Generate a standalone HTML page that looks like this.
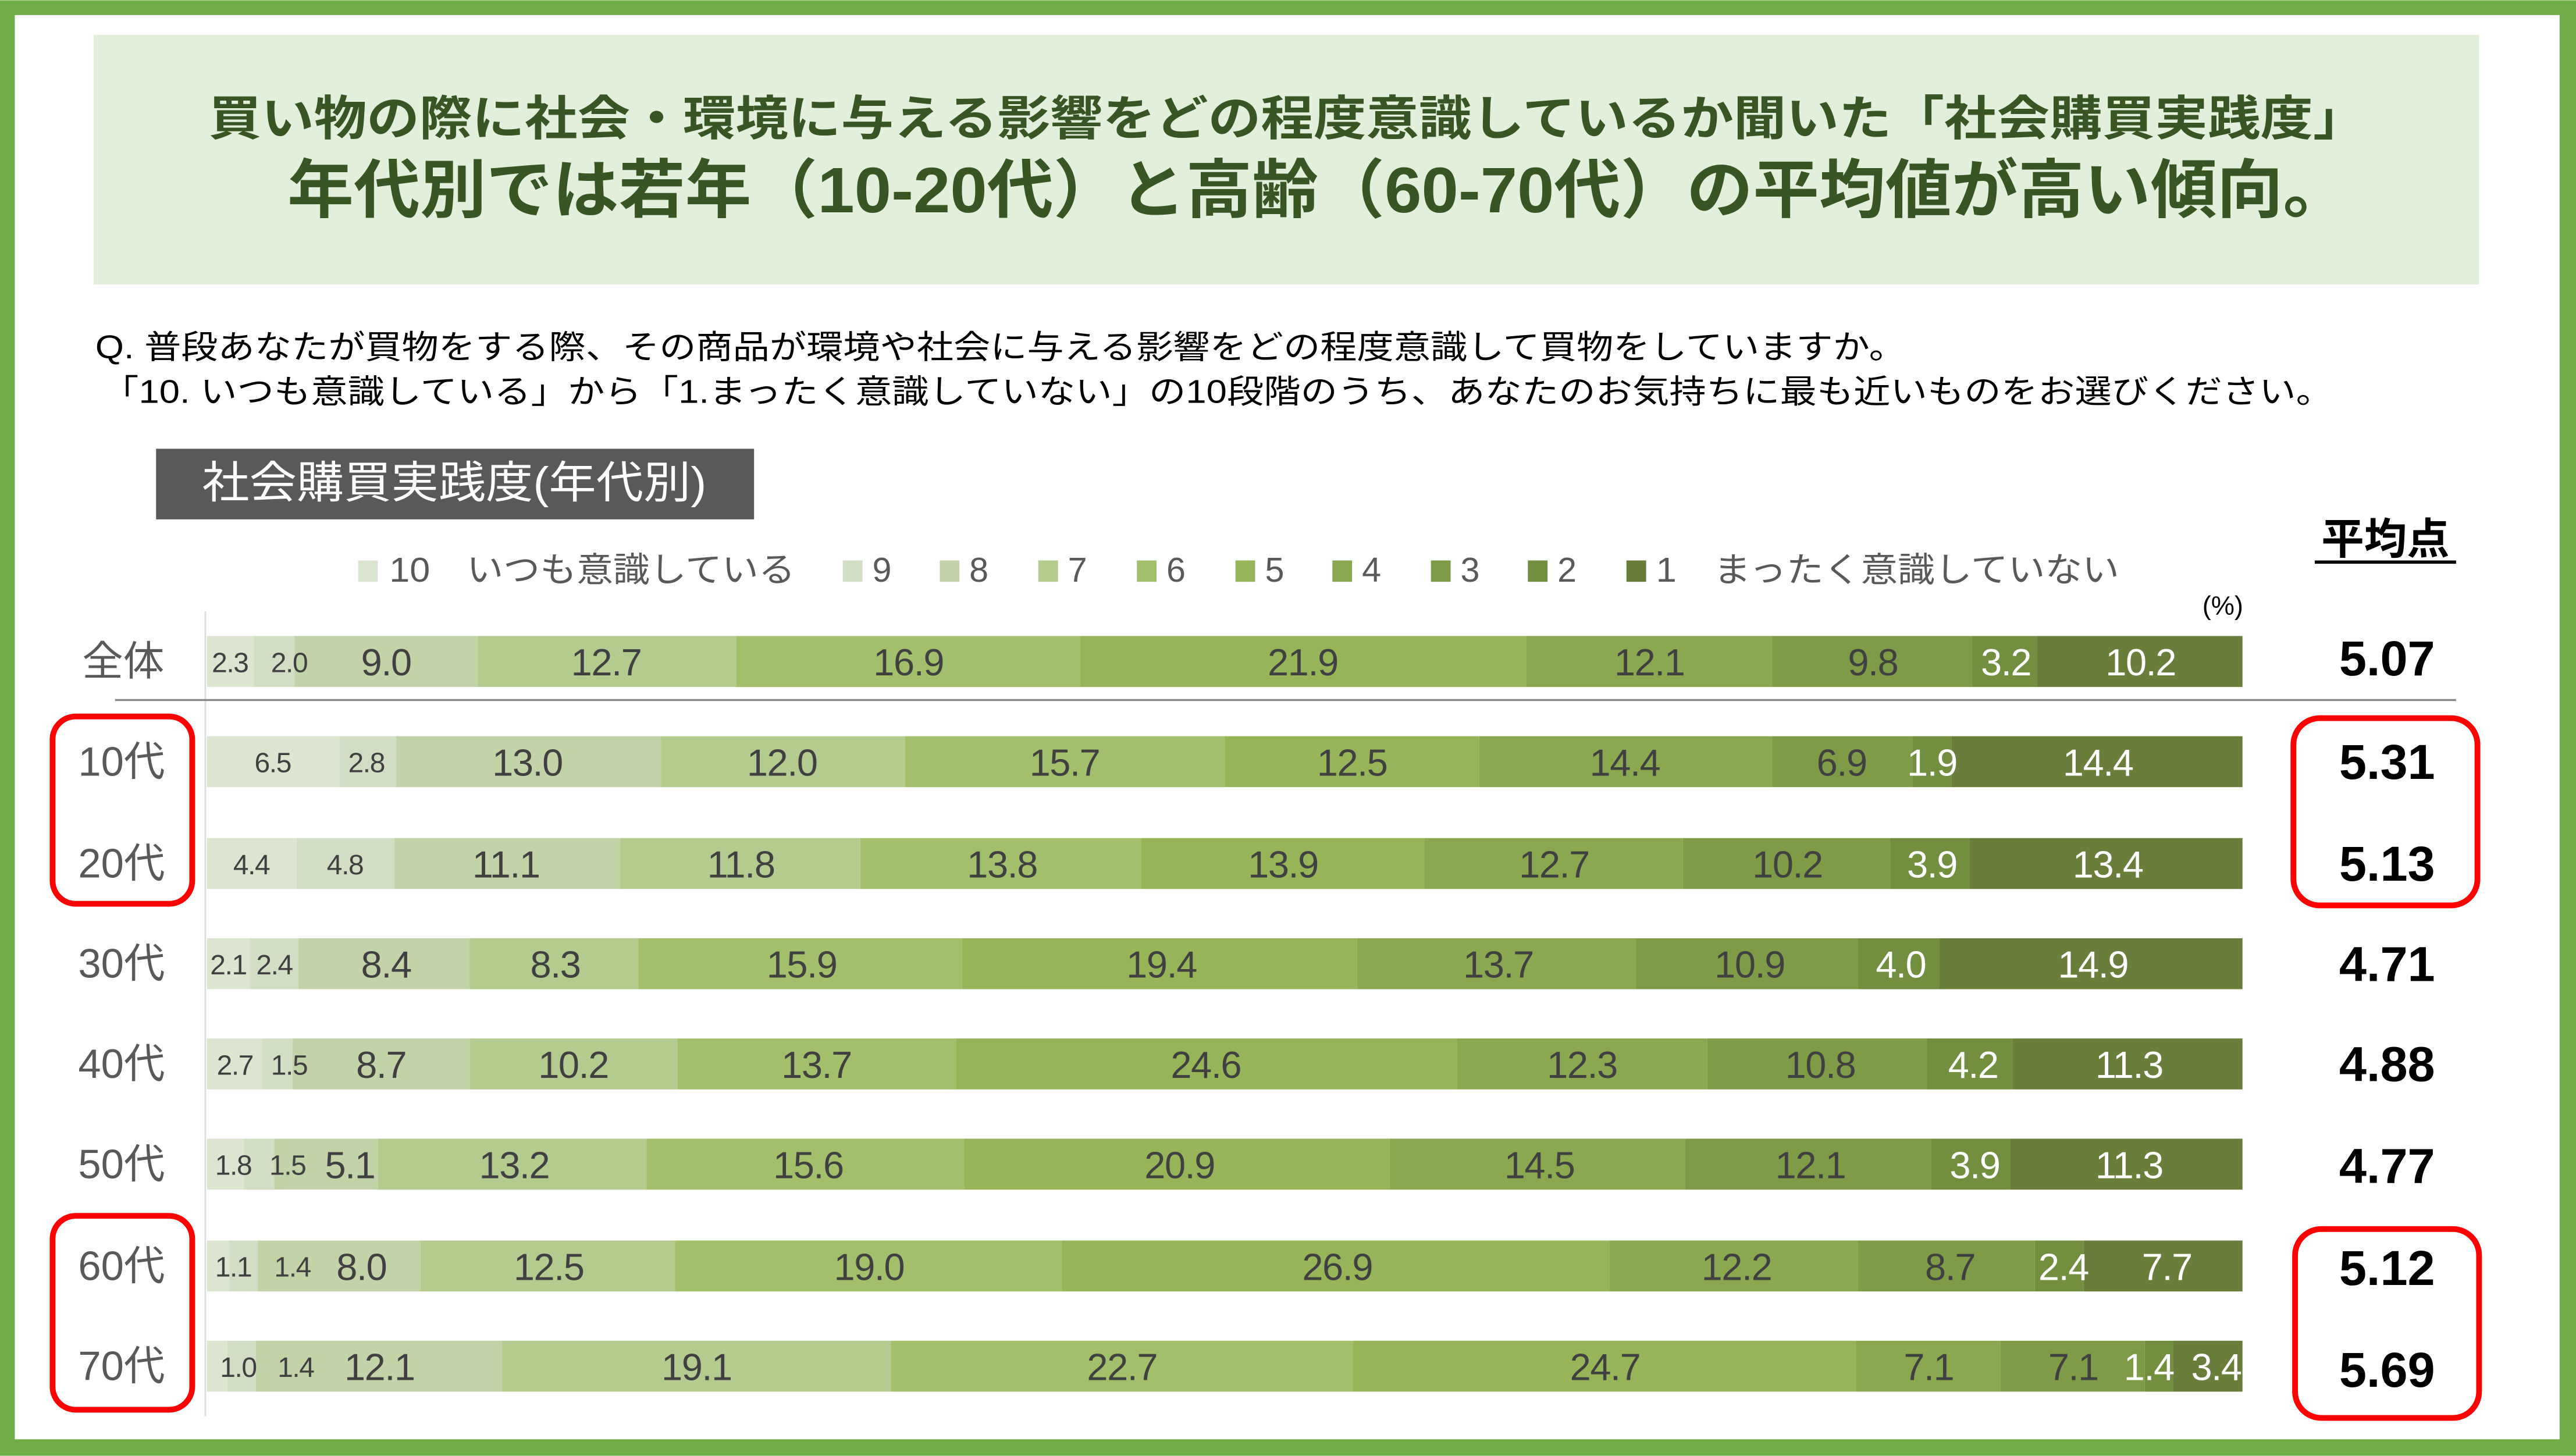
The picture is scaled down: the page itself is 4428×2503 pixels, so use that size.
<!DOCTYPE html>
<html><head><meta charset="utf-8"><style>
html,body{margin:0;padding:0;background:#fff;}
svg{display:block;}
text{font-family:"Liberation Sans","Noto Sans CJK JP",sans-serif;}
.b{font-size:23px;fill:#404040;text-anchor:middle;letter-spacing:-0.5px;}
.s{font-size:17px;fill:#404040;text-anchor:middle;letter-spacing:-0.5px;}
.w{fill:#fff;}
.r{font-size:25px;fill:#595959;text-anchor:middle;}
.a{font-size:30px;fill:#000;text-anchor:middle;font-weight:bold;}
.lg{font-size:21px;fill:#595959;}
</style></head><body>
<svg width="4428" height="2503" viewBox="0 0 1568 886" xmlns="http://www.w3.org/2000/svg">
<rect x="0" y="0" width="1568" height="886" fill="#70AD47"/>
<rect x="9" y="9" width="1549" height="867" fill="#fff"/>
<rect x="57" y="21" width="1452" height="152" fill="#E2EFDA"/>
<text x="127" y="82" font-size="29" font-weight="bold" fill="#375623" textLength="1313" lengthAdjust="spacingAndGlyphs">買い物の際に社会・環境に与える影響をどの程度意識しているか聞いた「社会購買実践度」</text>
<text x="175" y="129" font-size="39" font-weight="bold" fill="#375623" textLength="1255" lengthAdjust="spacingAndGlyphs">年代別では若年（10-20代）と高齢（60-70代）の平均値が高い傾向。</text>
<text x="58" y="218" font-size="20" fill="#000" textLength="1102" lengthAdjust="spacingAndGlyphs">Q.  普段あなたが買物をする際、その商品が環境や社会に与える影響をどの程度意識して買物をしていますか。</text>
<text x="62" y="245" font-size="20" fill="#000" textLength="1358" lengthAdjust="spacingAndGlyphs">「10. いつも意識している」から「1.まったく意識していない」の10段階のうち、あなたのお気持ちに最も近いものをお選びください。</text>
<rect x="95" y="273" width="364" height="43" fill="#595959"/>
<text x="123" y="303" font-size="27" fill="#fff" textLength="307" lengthAdjust="spacingAndGlyphs">社会購買実践度(年代別)</text>
<text x="1452" y="337" font-size="26" fill="#000" text-anchor="middle" font-weight="bold">平均点</text>
<line x1="1409" y1="342" x2="1495" y2="342" stroke="#000" stroke-width="2"/>
<text x="1353" y="374" font-size="16" fill="#000" text-anchor="middle">(%)</text>
<g>
<rect x="218" y="341" width="12" height="13" fill="#DCE5D0"/><text class="lg" x="237" y="354" textLength="247" lengthAdjust="spacingAndGlyphs">10　いつも意識している</text>
<rect x="513" y="341" width="12" height="13" fill="#D2DEC3"/><text class="lg" x="531" y="354">9</text>
<rect x="572" y="341" width="12" height="13" fill="#C3D3A8"/><text class="lg" x="590" y="354">8</text>
<rect x="632" y="341" width="12" height="13" fill="#B4CB8F"/><text class="lg" x="650" y="354">7</text>
<rect x="692" y="341" width="12" height="13" fill="#A2C06B"/><text class="lg" x="710" y="354">6</text>
<rect x="752" y="341" width="12" height="13" fill="#95B558"/><text class="lg" x="770" y="354">5</text>
<rect x="811" y="341" width="12" height="13" fill="#8AA850"/><text class="lg" x="829" y="354">4</text>
<rect x="871" y="341" width="12" height="13" fill="#7E9B48"/><text class="lg" x="889" y="354">3</text>
<rect x="930" y="341" width="12" height="13" fill="#718F3F"/><text class="lg" x="948" y="354">2</text>
<rect x="990" y="341" width="12" height="13" fill="#687E3A"/><text class="lg" x="1008" y="354" textLength="282" lengthAdjust="spacingAndGlyphs">1　まったく意識していない</text>
</g>
<line x1="125" y1="372" x2="125" y2="862" stroke="#ddd" stroke-width="1"/>
<line x1="70" y1="426" x2="1495" y2="426" stroke="#888" stroke-width="1.2"/>

<!-- 全体 -->
<g transform="translate(0,387)">
<rect x="126" width="28.5" height="31" fill="#DCE5D0"/><rect x="154.5" width="24.8" height="31" fill="#D2DEC3"/><rect x="179.3" width="111.5" height="31" fill="#C3D3A8"/><rect x="290.8" width="157.4" height="31" fill="#B4CB8F"/><rect x="448.2" width="209.4" height="31" fill="#A2C06B"/><rect x="657.6" width="271.3" height="31" fill="#95B558"/><rect x="928.9" width="149.9" height="31" fill="#8AA850"/><rect x="1078.8" width="121.4" height="31" fill="#7E9B48"/><rect x="1200.2" width="39.6" height="31" fill="#718F3F"/><rect x="1239.8" width="125.2" height="31" fill="#687E3A"/>
<text class="s" x="140" y="22">2.3</text><text class="s" x="176" y="22">2.0</text><text class="b" x="235" y="24">9.0</text><text class="b" x="369" y="24">12.7</text><text class="b" x="553" y="24">16.9</text><text class="b" x="793" y="24">21.9</text><text class="b" x="1004" y="24">12.1</text><text class="b" x="1140" y="24">9.8</text><text class="b w" x="1221" y="24">3.2</text><text class="b w" x="1303" y="24">10.2</text>
</g>
<!-- 10代 -->
<g transform="translate(0,448)">
<rect x="126" width="80.5" height="31" fill="#DCE5D0"/><rect x="206.5" width="34.7" height="31" fill="#D2DEC3"/><rect x="241.2" width="161.1" height="31" fill="#C3D3A8"/><rect x="402.3" width="148.7" height="31" fill="#B4CB8F"/><rect x="551" width="194.5" height="31" fill="#A2C06B"/><rect x="745.5" width="154.9" height="31" fill="#95B558"/><rect x="900.4" width="178.4" height="31" fill="#8AA850"/><rect x="1078.8" width="85.5" height="31" fill="#7E9B48"/><rect x="1164.3" width="23.5" height="31" fill="#718F3F"/><rect x="1187.8" width="177.2" height="31" fill="#687E3A"/>
<text class="s" x="166" y="22">6.5</text><text class="s" x="223" y="22">2.8</text><text class="b" x="321" y="24">13.0</text><text class="b" x="476" y="24">12.0</text><text class="b" x="648" y="24">15.7</text><text class="b" x="823" y="24">12.5</text><text class="b" x="989" y="24">14.4</text><text class="b" x="1121" y="24">6.9</text><text class="b w" x="1176" y="24">1.9</text><text class="b w" x="1277" y="24">14.4</text>
</g>
<!-- 20代 -->
<g transform="translate(0,510)">
<rect x="126" width="54.5" height="31" fill="#DCE5D0"/><rect x="180.5" width="59.5" height="31" fill="#D2DEC3"/><rect x="240" width="137.5" height="31" fill="#C3D3A8"/><rect x="377.5" width="146.2" height="31" fill="#B4CB8F"/><rect x="523.7" width="171" height="31" fill="#A2C06B"/><rect x="694.7" width="172.2" height="31" fill="#95B558"/><rect x="866.9" width="157.4" height="31" fill="#8AA850"/><rect x="1024.3" width="126.4" height="31" fill="#7E9B48"/><rect x="1150.7" width="48.3" height="31" fill="#718F3F"/><rect x="1199" width="166" height="31" fill="#687E3A"/>
<text class="s" x="153" y="22">4.4</text><text class="s" x="210" y="22">4.8</text><text class="b" x="308" y="24">11.1</text><text class="b" x="451" y="24">11.8</text><text class="b" x="610" y="24">13.8</text><text class="b" x="781" y="24">13.9</text><text class="b" x="946" y="24">12.7</text><text class="b" x="1088" y="24">10.2</text><text class="b w" x="1176" y="24">3.9</text><text class="b w" x="1283" y="24">13.4</text>
</g>
<!-- 30代 -->
<g transform="translate(0,571)">
<rect x="126" width="26" height="31" fill="#DCE5D0"/><rect x="152" width="29.7" height="31" fill="#D2DEC3"/><rect x="181.7" width="104.1" height="31" fill="#C3D3A8"/><rect x="285.8" width="102.8" height="31" fill="#B4CB8F"/><rect x="388.6" width="197" height="31" fill="#A2C06B"/><rect x="585.6" width="240.4" height="31" fill="#95B558"/><rect x="826" width="169.7" height="31" fill="#8AA850"/><rect x="995.7" width="135.1" height="31" fill="#7E9B48"/><rect x="1130.8" width="49.6" height="31" fill="#718F3F"/><rect x="1180.4" width="184.6" height="31" fill="#687E3A"/>
<text class="s" x="139" y="22">2.1</text><text class="s" x="167" y="22">2.4</text><text class="b" x="235" y="24">8.4</text><text class="b" x="338" y="24">8.3</text><text class="b" x="488" y="24">15.9</text><text class="b" x="707" y="24">19.4</text><text class="b" x="912" y="24">13.7</text><text class="b" x="1065" y="24">10.9</text><text class="b w" x="1157" y="24">4.0</text><text class="b w" x="1274" y="24">14.9</text>
</g>
<!-- 40代 -->
<g transform="translate(0,632)">
<rect x="126" width="33.5" height="31" fill="#DCE5D0"/><rect x="159.5" width="18.6" height="31" fill="#D2DEC3"/><rect x="178.1" width="107.8" height="31" fill="#C3D3A8"/><rect x="285.9" width="126.4" height="31" fill="#B4CB8F"/><rect x="412.3" width="169.7" height="31" fill="#A2C06B"/><rect x="582" width="304.8" height="31" fill="#95B558"/><rect x="886.8" width="152.4" height="31" fill="#8AA850"/><rect x="1039.2" width="133.8" height="31" fill="#7E9B48"/><rect x="1173" width="52" height="31" fill="#718F3F"/><rect x="1225" width="140" height="31" fill="#687E3A"/>
<text class="s" x="143" y="22">2.7</text><text class="s" x="176" y="22">1.5</text><text class="b" x="232" y="24">8.7</text><text class="b" x="349" y="24">10.2</text><text class="b" x="497" y="24">13.7</text><text class="b" x="734" y="24">24.6</text><text class="b" x="963" y="24">12.3</text><text class="b" x="1108" y="24">10.8</text><text class="b w" x="1201" y="24">4.2</text><text class="b w" x="1296" y="24">11.3</text>
</g>
<!-- 50代 -->
<g transform="translate(0,693)">
<rect x="126" width="22.3" height="31" fill="#DCE5D0"/><rect x="148.3" width="18.6" height="31" fill="#D2DEC3"/><rect x="166.9" width="63.2" height="31" fill="#C3D3A8"/><rect x="230.1" width="163.5" height="31" fill="#B4CB8F"/><rect x="393.6" width="193.3" height="31" fill="#A2C06B"/><rect x="586.9" width="259" height="31" fill="#95B558"/><rect x="845.9" width="179.7" height="31" fill="#8AA850"/><rect x="1025.6" width="149.9" height="31" fill="#7E9B48"/><rect x="1175.5" width="48.3" height="31" fill="#718F3F"/><rect x="1223.8" width="141.2" height="31" fill="#687E3A"/>
<text class="s" x="142" y="22">1.8</text><text class="s" x="175" y="22">1.5</text><text class="b" x="213" y="24">5.1</text><text class="b" x="313" y="24">13.2</text><text class="b" x="492" y="24">15.6</text><text class="b" x="718" y="24">20.9</text><text class="b" x="937" y="24">14.5</text><text class="b" x="1102" y="24">12.1</text><text class="b w" x="1202" y="24">3.9</text><text class="b w" x="1296" y="24">11.3</text>
</g>
<!-- 60代 -->
<g transform="translate(0,755)">
<rect x="126" width="13.6" height="31" fill="#DCE5D0"/><rect x="139.6" width="17.3" height="31" fill="#D2DEC3"/><rect x="156.9" width="99.1" height="31" fill="#C3D3A8"/><rect x="256" width="154.9" height="31" fill="#B4CB8F"/><rect x="410.9" width="235.4" height="31" fill="#A2C06B"/><rect x="646.3" width="333.3" height="31" fill="#95B558"/><rect x="979.6" width="151.2" height="31" fill="#8AA850"/><rect x="1130.8" width="107.8" height="31" fill="#7E9B48"/><rect x="1238.6" width="29.7" height="31" fill="#718F3F"/><rect x="1268.3" width="96.7" height="31" fill="#687E3A"/>
<text class="s" x="142" y="22">1.1</text><text class="s" x="178" y="22">1.4</text><text class="b" x="220" y="24">8.0</text><text class="b" x="334" y="24">12.5</text><text class="b" x="529" y="24">19.0</text><text class="b" x="814" y="24">26.9</text><text class="b" x="1057" y="24">12.2</text><text class="b" x="1187" y="24">8.7</text><text class="b w" x="1256" y="24">2.4</text><text class="b w" x="1319" y="24">7.7</text>
</g>
<!-- 70代 -->
<g transform="translate(0,816)">
<rect x="126" width="12.4" height="31" fill="#DCE5D0"/><rect x="138.4" width="17.3" height="31" fill="#D2DEC3"/><rect x="155.7" width="149.9" height="31" fill="#C3D3A8"/><rect x="305.6" width="236.6" height="31" fill="#B4CB8F"/><rect x="542.2" width="281.3" height="31" fill="#A2C06B"/><rect x="823.5" width="306" height="31" fill="#95B558"/><rect x="1129.5" width="88" height="31" fill="#8AA850"/><rect x="1217.5" width="88" height="31" fill="#7E9B48"/><rect x="1305.5" width="17.3" height="31" fill="#718F3F"/><rect x="1322.8" width="42.2" height="31" fill="#687E3A"/>
<text class="s" x="145" y="22">1.0</text><text class="s" x="180" y="22">1.4</text><text class="b" x="231" y="24">12.1</text><text class="b" x="424" y="24">19.1</text><text class="b" x="683" y="24">22.7</text><text class="b" x="977" y="24">24.7</text><text class="b" x="1174" y="24">7.1</text><text class="b" x="1262" y="24">7.1</text><text class="b w" x="1308" y="24">1.4</text><text class="b w" x="1349" y="24">3.4</text>
</g>

<text class="r" x="75" y="411">全体</text>
<text class="r" x="74" y="472">10代</text>
<text class="r" x="74" y="534">20代</text>
<text class="r" x="74" y="595">30代</text>
<text class="r" x="74" y="656">40代</text>
<text class="r" x="74" y="717">50代</text>
<text class="r" x="74" y="779">60代</text>
<text class="r" x="74" y="840">70代</text>

<text class="a" x="1453" y="411">5.07</text>
<text class="a" x="1453" y="474">5.31</text>
<text class="a" x="1453" y="536">5.13</text>
<text class="a" x="1453" y="597">4.71</text>
<text class="a" x="1453" y="658">4.88</text>
<text class="a" x="1453" y="720">4.77</text>
<text class="a" x="1453" y="782">5.12</text>
<text class="a" x="1453" y="844">5.69</text>

<g fill="none" stroke="#FF0000" stroke-width="3.5">
<rect x="32" y="436" width="85" height="114" rx="14"/>
<rect x="32" y="740" width="85" height="118" rx="14"/>
<rect x="1396" y="437" width="112" height="114" rx="16"/>
<rect x="1397" y="748" width="112" height="115" rx="16"/>
</g>
</svg>
</body></html>
